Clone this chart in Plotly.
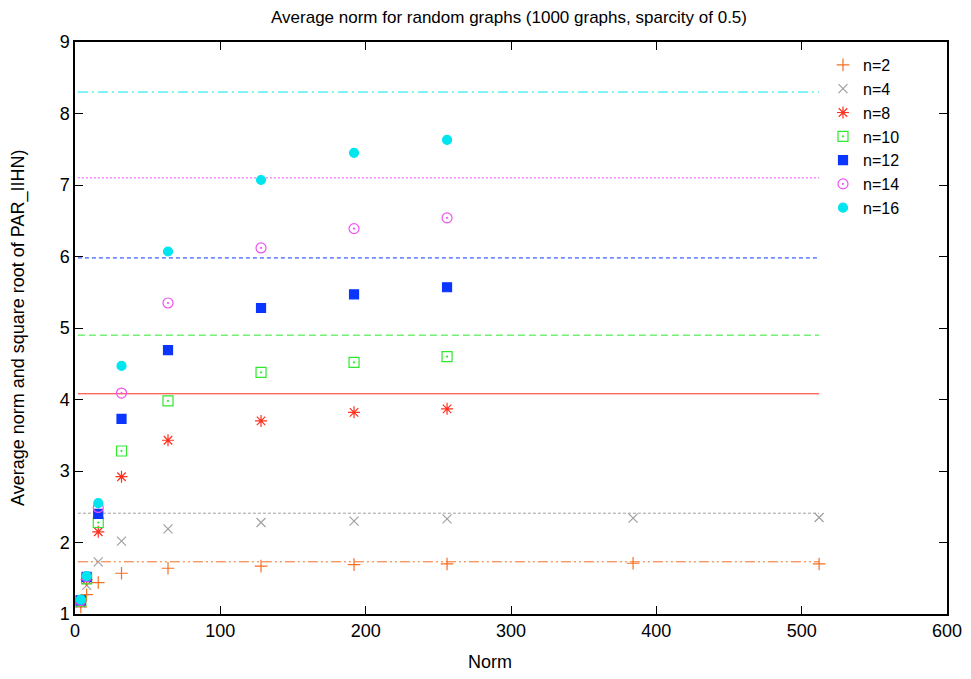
import plotly.graph_objects as go

# ---- data ----
series_names = ["n=2", "n=4", "n=8", "n=10", "n=12", "n=14", "n=16"]
norm_long = [4, 8, 16, 32, 64, 128, 192, 256, 384, 512]
norm_short = [4, 8, 16, 32, 64, 128, 192, 256]

n2 = [1.10, 1.27, 1.44, 1.57, 1.64, 1.67, 1.69, 1.70, 1.71, 1.70]
n4 = [1.15, 1.40, 1.73, 2.02, 2.19, 2.28, 2.30, 2.33, 2.34, 2.35]
n8 = [1.17, 1.48, 2.15, 2.92, 3.43, 3.70, 3.82, 3.87]
n10 = [1.18, 1.49, 2.28, 3.28, 3.98, 4.38, 4.52, 4.60]
n12 = [1.19, 1.52, 2.40, 3.73, 4.69, 5.28, 5.47, 5.57]
n14 = [1.19, 1.52, 2.49, 4.09, 5.35, 6.12, 6.39, 6.54]
n16 = [1.20, 1.53, 2.55, 4.47, 6.07, 7.07, 7.45, 7.63]

# reference levels (square root of PAR_IIHN), one per n
sqrt_levels = [1.73, 2.41, 4.08, 4.90, 5.98, 7.10, 8.30]
level_x = [2, 512]

x_ticks = [0, 100, 200, 300, 400, 500, 600]
y_ticks = [1, 2, 3, 4, 5, 6, 7, 8, 9]

title_text = "Average norm for random graphs (1000 graphs, sparcity of 0.5)"
xlabel_text = "Norm"
ylabel_text = "Average norm and square root of PAR_IIHN)"

# ---- styles ----
xs = [norm_long, norm_long, norm_short, norm_short, norm_short, norm_short, norm_short]
ys = [n2, n4, n8, n10, n12, n14, n16]
colors = ["#f56f22", "#a0a0a0", "#ff3020", "#2ee82e", "#0a36ff", "#f050f0", "#00e5ee"]
symbols = ["cross-thin-open", "x-thin-open", "asterisk-open", "square-open-dot",
           "square", "circle-open-dot", "circle"]
sizes = [9, 9, 10, 10, 9, 10, 9]
dashes = ["10px,3px,2px,3px,2px,3px", "3px,2px", "solid", "7px,4px",
          "4px,3px", "2px,2px", "10px,4px,2px,4px"]

FONT = "Liberation Sans, Arial, Helvetica, sans-serif"

# page body has an 8px default margin, so the figure is a bit smaller
W, H = 963, 671
L, R, T, B = 67, 24, 34, 65
PW, PH = W - L - R, H - T - B

fig = go.Figure()

for name, lvl, col, dash in zip(series_names, sqrt_levels, colors, dashes):
    fig.add_trace(go.Scatter(
        x=level_x, y=[lvl, lvl], mode="lines",
        line=dict(color=col, width=1, dash=dash),
        showlegend=False, hoverinfo="skip"))

for name, x, y, col, sym, sz in zip(series_names, xs, ys, colors, symbols, sizes):
    fig.add_trace(go.Scatter(
        x=x, y=y, mode="markers", name=name,
        marker=dict(symbol=sym, size=sz, color=col,
                    line=dict(color=col, width=1.2))))

axis_common = dict(
    showgrid=False, zeroline=False, showline=True, linecolor="black", linewidth=1.5,
    mirror="ticks", ticks="inside", ticklen=8, tickcolor="black", tickwidth=1,
    automargin=False,
    tickfont=dict(family=FONT, size=18, color="black"))

fig.update_xaxes(range=[0, 600], tickvals=x_ticks, **axis_common)
fig.update_yaxes(range=[1, 9], tickvals=y_ticks, **axis_common)

fig.update_layout(
    width=W, height=H,
    margin=dict(l=L, r=R, t=T, b=B, autoexpand=False),
    paper_bgcolor="white", plot_bgcolor="white",
    font=dict(family=FONT, size=18, color="black"),
    title=dict(text=title_text,
               x=(509 - 75) / PW, xref="paper", xanchor="center",
               y=1 - 3 / H, yref="container", yanchor="top",
               font=dict(family=FONT, size=17, color="black")),
    annotations=[
        dict(text=xlabel_text, xref="paper", yref="paper",
             x=(490 - 75) / PW, y=-(662 - 614) / PH,
             xanchor="center", yanchor="middle", showarrow=False,
             font=dict(family=FONT, size=18, color="black")),
        dict(text=ylabel_text, xref="paper", yref="paper",
             x=-(75 - 18) / PW, y=0.5, textangle=-90,
             xanchor="center", yanchor="middle", showarrow=False,
             font=dict(family=FONT, size=18, color="black")),
    ],
    legend=dict(x=(905 - 75) / PW, xanchor="right", y=1 - 6 / PH, yanchor="top",
                bgcolor="rgba(0,0,0,0)", borderwidth=0,
                font=dict(family=FONT, size=16, color="black"),
                itemwidth=30, tracegroupgap=0),
    showlegend=True,
)

fig.write_html("out.html")
